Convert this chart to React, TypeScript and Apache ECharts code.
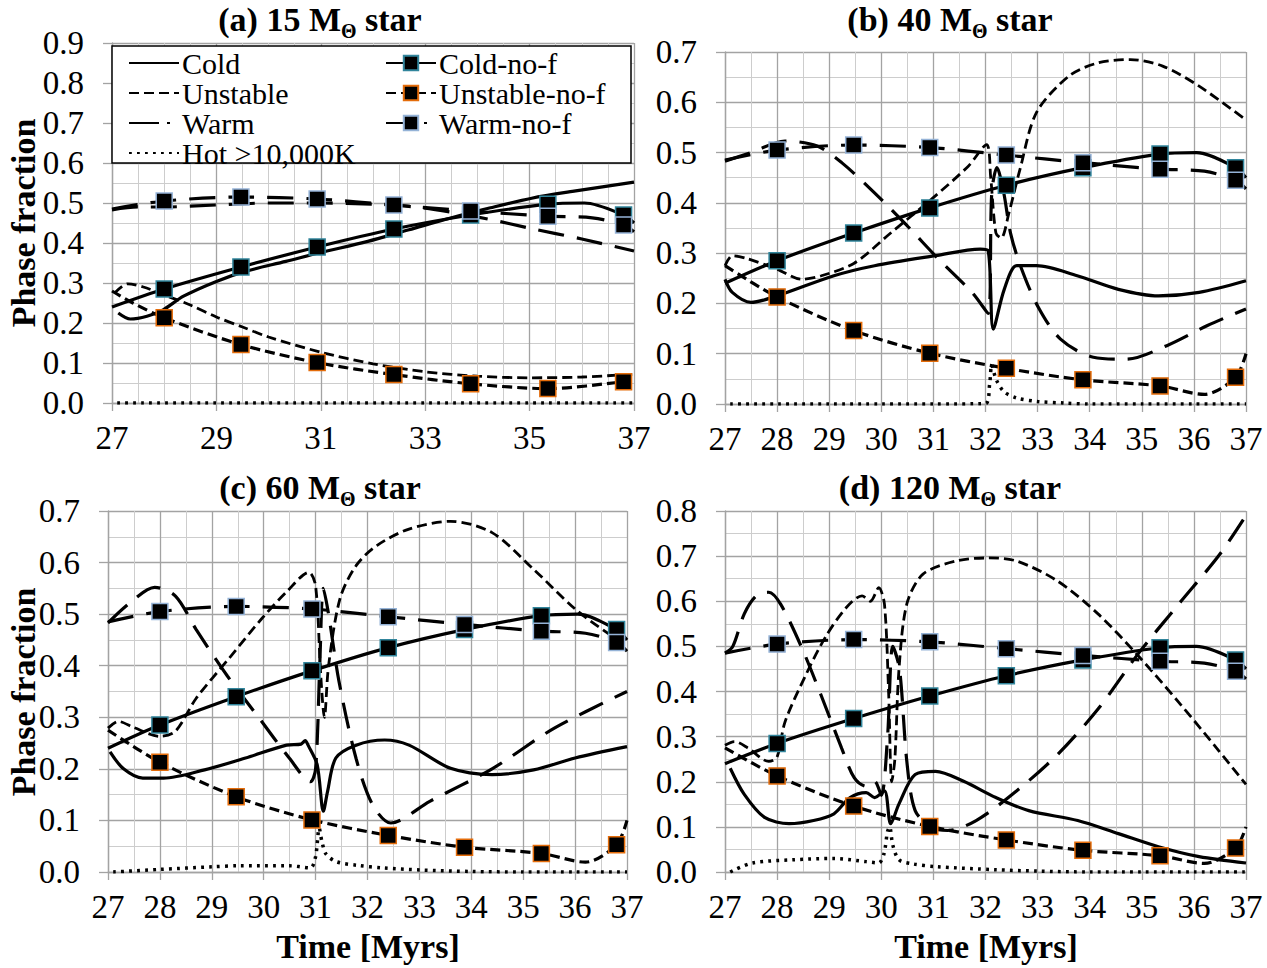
import React, { useEffect, useRef } from 'react';
import * as echarts from 'echarts';

const FONT = 'Liberation Serif';

// ---------- shared x positions of markers ----------
const markerX = [28, 29.47, 30.93, 32.4, 33.87, 35.35, 36.8];

// ---------- no-feedback runs (same in every panel) ----------
const coldNoF_x = [27, 28, 29.47, 30.93, 32.4, 33.87, 35.35, 36.05, 36.8, 37];
const coldNoF_y = [0.24, 0.285, 0.34, 0.39, 0.435, 0.47, 0.497, 0.5, 0.47, 0.45];
const unstNoF_x = [27, 28, 29.47, 30.93, 32.4, 33.87, 35.35, 36.2, 36.8, 37];
const unstNoF_y = [0.275, 0.213, 0.146, 0.101, 0.071, 0.048, 0.036, 0.019, 0.053, 0.1];
const unstNoFA_x = [27, 27.4, 28, 29.47, 30.93, 32.4, 33.87, 35.35, 36.8, 37];
const unstNoFA_y = [0.28, 0.25, 0.213, 0.146, 0.101, 0.071, 0.048, 0.036, 0.053, 0.057];
const warmNoF_x = [27, 28, 29.47, 30.93, 32.4, 33.87, 35.35, 36.2, 36.8, 37];
const warmNoF_y = [0.485, 0.505, 0.515, 0.51, 0.495, 0.48, 0.467, 0.463, 0.445, 0.428];

// ---------- (a) 15 Msun ----------
const coldA_x = [27.12, 27.35, 27.67, 27.98, 28.37, 29.0, 29.55, 30.33, 30.96, 31.9, 32.69, 33.47, 34.25, 35.04, 35.82, 37.0];
const coldA_y = [0.225, 0.21, 0.217, 0.233, 0.267, 0.304, 0.329, 0.354, 0.375, 0.404, 0.433, 0.462, 0.488, 0.512, 0.529, 0.552];
const unstA_x = [27.05, 27.3, 27.6, 28.0, 28.5, 29.0, 29.5, 30.0, 31.0, 32.0, 33.0, 34.0, 35.0, 36.0, 37.0];
const unstA_y = [0.275, 0.298, 0.29, 0.27, 0.245, 0.215, 0.19, 0.165, 0.127, 0.098, 0.078, 0.067, 0.063, 0.065, 0.072];
const warmA_x = [27.0, 27.5, 28.0, 29.0, 30.0, 31.0, 32.0, 32.8, 33.5, 34.2, 35.0, 36.0, 37.0];
const warmA_y = [0.483, 0.49, 0.49, 0.495, 0.5, 0.5, 0.497, 0.49, 0.477, 0.46, 0.437, 0.41, 0.38];
const hotA_x = [27.1, 29, 31, 33, 35, 37];
const hotA_y = [0, 0, 0, 0, 0, 0];

// ---------- (b) 40 Msun ----------
const coldB_x = [27.0, 27.14, 27.5, 28.0, 29.09, 29.87, 31.04, 31.9, 32.05, 32.15, 32.36, 32.6, 32.98, 33.76, 34.55, 35.32, 36.1, 37.0];
const coldB_y = [0.248, 0.222, 0.202, 0.215, 0.255, 0.275, 0.295, 0.308, 0.305, 0.149, 0.228, 0.275, 0.275, 0.255, 0.228, 0.215, 0.222, 0.245];
const unstB_x = [27.0, 27.14, 27.4, 28.0, 28.47, 28.85, 29.48, 30.18, 30.96, 31.67, 32.02, 32.1, 32.2, 32.3, 32.45, 32.67, 32.98, 33.6, 34.15, 34.78, 35.4, 36.1, 37.0];
const unstB_y = [0.275, 0.295, 0.29, 0.268, 0.248, 0.255, 0.28, 0.34, 0.407, 0.473, 0.516, 0.45, 0.34, 0.33, 0.38, 0.47, 0.58, 0.652, 0.678, 0.685, 0.672, 0.632, 0.565];
const warmB_x = [27.0, 27.5, 28.15, 28.77, 29.24, 29.87, 30.5, 31.1, 31.74, 32.05, 32.12, 32.22, 32.35, 32.48, 32.67, 33.0, 33.44, 34.07, 34.7, 35.48, 36.26, 37.0];
const warmB_y = [0.483, 0.5, 0.523, 0.513, 0.48, 0.42, 0.354, 0.288, 0.222, 0.18, 0.42, 0.47, 0.42, 0.34, 0.275, 0.195, 0.129, 0.093, 0.089, 0.116, 0.156, 0.189];
const hotB_x = [27.1, 28, 29, 30, 31, 32.0, 32.08, 32.12, 32.2, 32.35, 32.6, 33.0, 33.5, 34, 35, 36, 37];
const hotB_y = [0, 0, 0, 0, 0, 0.001, 0.04, 0.078, 0.05, 0.025, 0.012, 0.005, 0.002, 0, 0, 0, 0];

// ---------- (c) 60 Msun ----------
const coldC_x = [27.04, 27.3, 27.67, 28.07, 28.86, 29.65, 30.44, 30.72, 30.8, 30.86, 31.03, 31.15, 31.23, 31.39, 31.78, 32.33, 32.8, 33.6, 34.4, 35.2, 36.0, 37.0];
const coldC_y = [0.233, 0.2, 0.182, 0.182, 0.198, 0.221, 0.246, 0.248, 0.255, 0.245, 0.208, 0.118, 0.156, 0.221, 0.246, 0.256, 0.246, 0.201, 0.189, 0.198, 0.221, 0.243];
const unstC_x = [27.0, 27.2, 27.5, 28.0, 28.3, 28.7, 29.33, 29.96, 30.44, 30.87, 31.0, 31.1, 31.17, 31.25, 31.47, 31.78, 32.18, 32.8, 33.6, 34.4, 35.2, 36.0, 36.6, 37.0];
const unstC_y = [0.279, 0.292, 0.28, 0.263, 0.273, 0.337, 0.414, 0.491, 0.543, 0.581, 0.555, 0.38, 0.3, 0.4, 0.53, 0.594, 0.633, 0.665, 0.68, 0.658, 0.587, 0.51, 0.465, 0.44];
const warmC_x = [27.0, 27.4, 27.9, 28.3, 28.7, 29.3, 29.9, 30.5, 30.9, 31.0, 31.08, 31.15, 31.25, 31.45, 31.78, 32.1, 32.45, 33.2, 34.4, 35.6, 37.0];
const warmC_y = [0.483, 0.52, 0.552, 0.535, 0.47, 0.38, 0.3, 0.22, 0.175, 0.2, 0.4, 0.55, 0.5, 0.37, 0.22, 0.13, 0.095, 0.137, 0.2, 0.279, 0.35];
const hotC_x = [27.1, 28, 29, 29.5, 30.5, 30.9, 31.0, 31.07, 31.12, 31.2, 31.4, 31.8, 32.3, 33, 34, 35, 36, 37];
const hotC_y = [0, 0.005, 0.01, 0.012, 0.012, 0.008, 0.03, 0.085, 0.06, 0.035, 0.02, 0.013, 0.008, 0.004, 0.001, 0, 0, 0];

// ---------- (d) 120 Msun ----------
const coldD_x = [27.1, 27.37, 27.76, 28.23, 28.7, 29.09, 29.4, 29.71, 29.87, 30.06, 30.18, 30.34, 30.65, 31.04, 31.58, 32.2, 32.83, 33.77, 34.55, 35.32, 36.1, 37.0];
const coldD_y = [0.23, 0.172, 0.121, 0.107, 0.114, 0.129, 0.165, 0.176, 0.165, 0.18, 0.107, 0.151, 0.216, 0.223, 0.201, 0.165, 0.136, 0.114, 0.085, 0.056, 0.034, 0.02];
const unstD_x = [27.0, 27.18, 27.45, 27.84, 28.0, 28.15, 28.54, 28.93, 29.32, 29.63, 29.79, 29.95, 30.06, 30.14, 30.2, 30.26, 30.34, 30.49, 30.8, 31.43, 32.05, 32.6, 33.38, 34.16, 34.94, 35.71, 36.49, 37.0];
const unstD_y = [0.281, 0.289, 0.274, 0.245, 0.255, 0.332, 0.434, 0.521, 0.585, 0.612, 0.6, 0.63, 0.594, 0.4, 0.2, 0.25, 0.45, 0.594, 0.66, 0.689, 0.696, 0.689, 0.645, 0.572, 0.478, 0.376, 0.267, 0.194];
const warmD_x = [27.0, 27.15, 27.37, 27.6, 27.84, 28.07, 28.47, 28.85, 29.24, 29.48, 29.71, 29.87, 30.0, 30.12, 30.22, 30.35, 30.49, 30.65, 30.96, 31.27, 31.82, 32.6, 33.38, 34.16, 34.94, 35.71, 36.49, 37.0];
const warmD_y = [0.485, 0.5, 0.572, 0.612, 0.62, 0.593, 0.498, 0.39, 0.274, 0.209, 0.19, 0.201, 0.17, 0.3, 0.5, 0.45, 0.245, 0.136, 0.1, 0.092, 0.114, 0.18, 0.26, 0.361, 0.485, 0.594, 0.703, 0.79];
const hotD_x = [27.1, 27.53, 28.3, 29.09, 29.71, 29.95, 30.05, 30.12, 30.16, 30.22, 30.34, 30.6, 31.04, 32.2, 33.0, 34, 35, 36, 37];
const hotD_y = [0, 0.02, 0.027, 0.03, 0.023, 0.02, 0.04, 0.09, 0.1, 0.06, 0.027, 0.018, 0.012, 0.005, 0.002, 0, 0, 0, 0];

// ---------- panel config ----------
const titles = ['(a) 15 M', '(b) 40 M', '(c) 60 M', '(d) 120 M'];
const yMax = [0.9, 0.7, 0.7, 0.8];
const xInterval = [2, 1, 1, 1];
const xMinorSplit = [4, 2, 2, 2];

const panels = [
  { cold: [coldA_x, coldA_y], unst: [unstA_x, unstA_y], warm: [warmA_x, warmA_y], hot: [hotA_x, hotA_y], unstNoF: [unstNoFA_x, unstNoFA_y] },
  { cold: [coldB_x, coldB_y], unst: [unstB_x, unstB_y], warm: [warmB_x, warmB_y], hot: [hotB_x, hotB_y], unstNoF: [unstNoF_x, unstNoF_y] },
  { cold: [coldC_x, coldC_y], unst: [unstC_x, unstC_y], warm: [warmC_x, warmC_y], hot: [hotC_x, hotC_y], unstNoF: [unstNoF_x, unstNoF_y] },
  { cold: [coldD_x, coldD_y], unst: [unstD_x, unstD_y], warm: [warmD_x, warmD_y], hot: [hotD_x, hotD_y], unstNoF: [unstNoF_x, unstNoF_y] },
];

const grids = [
  { left: 112, top: 43, width: 522, height: 360 },
  { left: 725, top: 52, width: 521, height: 352 },
  { left: 108, top: 511, width: 519, height: 361 },
  { left: 725, top: 511, width: 521, height: 361 },
];
const titlePos = [[320, 19], [950, 19], [320, 487], [950, 487]];

const MAJOR = '#a3a3a3';
const MINOR = '#cdcdcd';

function pts(xs: number[], ys: number[]) {
  return xs.map((x, i) => [x, ys[i]]);
}
function markedPts(xs: number[], ys: number[]) {
  return xs.map((x, i) =>
    markerX.indexOf(x) >= 0 ? { value: [x, ys[i]] } : { value: [x, ys[i]], symbol: 'none' }
  );
}

const SOLID = 'solid';
const SHORT = [10, 5];
const LONG = [26, 13];
const LONG_LEGEND = [30, 8, 3, 9];
const DOT = [2.8, 5.2];

const tickRich = { t: { fontFamily: FONT, fontSize: 33, color: '#000' } };

function buildOption() {
  const series: any[] = [];
  panels.forEach((p, i) => {
    const base = { type: 'line', xAxisIndex: i, yAxisIndex: i, smooth: 0.3, clip: true };
    series.push({ ...base, name: 'Cold', symbol: 'none', data: pts(p.cold[0], p.cold[1]), lineStyle: { color: '#000', width: 3.2, type: SOLID }, itemStyle: { color: '#000' } });
    series.push({ ...base, name: 'Unstable', symbol: 'none', data: pts(p.unst[0], p.unst[1]), lineStyle: { color: '#000', width: 2.8, type: SHORT }, itemStyle: { color: '#000' } });
    series.push({ ...base, name: 'Warm', symbol: 'none', data: pts(p.warm[0], p.warm[1]), lineStyle: { color: '#000', width: 3.2, type: LONG }, itemStyle: { color: '#000' } });
    series.push({ ...base, name: 'Hot >10,000K', symbol: 'none', data: pts(p.hot[0], p.hot[1]), lineStyle: { color: '#000', width: 3.5, type: DOT }, itemStyle: { color: '#000' } });
    const mk = { symbol: 'rect', symbolSize: 16, showSymbol: true, showAllSymbol: true };
    series.push({ ...base, ...mk, name: 'Cold-no-f', data: markedPts(coldNoF_x, coldNoF_y), lineStyle: { color: '#000', width: 3.2, type: SOLID }, itemStyle: { color: '#000', borderColor: '#31859c', borderWidth: 1.5 } });
    series.push({ ...base, ...mk, name: 'Unstable-no-f', data: markedPts(p.unstNoF[0], p.unstNoF[1]), lineStyle: { color: '#000', width: 3.2, type: SHORT }, itemStyle: { color: '#000', borderColor: '#e46c0a', borderWidth: 1.5 } });
    series.push({ ...base, ...mk, name: 'Warm-no-f', data: markedPts(warmNoF_x, warmNoF_y), lineStyle: { color: '#000', width: 3.2, type: LONG }, itemStyle: { color: '#000', borderColor: '#95b3d7', borderWidth: 1.5 } });
  });

  const xAxis = grids.map((_, i) => ({
    type: 'value', gridIndex: i, min: 27, max: 37, interval: xInterval[i],
    axisLine: { show: true, onZero: false, lineStyle: { color: MAJOR, width: 1.3 } },
    axisTick: { show: true, length: 8, lineStyle: { color: MAJOR, width: 1.3 } },
    axisLabel: { fontFamily: FONT, fontSize: 33, color: '#000', margin: 18, formatter: (v: number) => '{t|' + v + '}', rich: tickRich },
    splitLine: { show: true, lineStyle: { color: MAJOR, width: 1.3 } },
    minorTick: { show: false, splitNumber: xMinorSplit[i] },
    minorSplitLine: { show: true, lineStyle: { color: MINOR, width: 1 } },
  }));
  const yAxis = grids.map((_, i) => ({
    type: 'value', gridIndex: i, min: 0, max: yMax[i], interval: 0.1,
    axisLine: { show: true, lineStyle: { color: MAJOR, width: 1.3 } },
    axisTick: { show: true, length: 9, lineStyle: { color: MAJOR, width: 1.3 } },
    axisLabel: { fontFamily: FONT, fontSize: 33, color: '#000', margin: 28, formatter: (v: number) => '{t|' + v.toFixed(1) + '}', rich: tickRich },
    splitLine: { show: true, lineStyle: { color: MAJOR, width: 1.3 } },
    minorTick: { show: false, splitNumber: 2 },
    minorSplitLine: { show: true, lineStyle: { color: MINOR, width: 1 } },
  }));

  const richTitle = {
    b: { fontFamily: FONT, fontSize: 34, fontWeight: 'bold', lineHeight: 44, verticalAlign: 'middle', color: '#000' },
    s: { fontFamily: FONT, fontSize: 20, fontWeight: 'bold', lineHeight: 20, verticalAlign: 'bottom', color: '#000' },
  };

  const graphic: any[] = titles.map((t, i) => ({
    type: 'text', x: titlePos[i][0], y: titlePos[i][1], z: 20,
    style: {
      text: '{b|' + t + '}{s|Θ}{b| star}', rich: richTitle,
      textAlign: 'center', textVerticalAlign: 'middle', align: 'center', verticalAlign: 'middle',
    },
  }));
  const nameStyle = { fontFamily: FONT, fontSize: 34, fontWeight: 'bold', fill: '#000', textAlign: 'center', textVerticalAlign: 'middle', align: 'center', verticalAlign: 'middle' };
  graphic.push({ type: 'text', x: 23, y: 223, rotation: Math.PI / 2, z: 20, style: { ...nameStyle, text: 'Phase fraction' } });
  graphic.push({ type: 'text', x: 23, y: 692, rotation: Math.PI / 2, z: 20, style: { ...nameStyle, text: 'Phase fraction' } });
  graphic.push({ type: 'text', x: 368, y: 946, z: 20, style: { ...nameStyle, text: 'Time [Myrs]' } });
  graphic.push({ type: 'text', x: 986, y: 946, z: 20, style: { ...nameStyle, text: 'Time [Myrs]' } });
  graphic.push({ type: 'rect', z: 5, shape: { x: 112, y: 46, width: 519, height: 117 }, style: { fill: '#fff', stroke: '#000', lineWidth: 1.5 } });

  const legendCommon = {
    orient: 'vertical', top: 48, itemWidth: 50, itemHeight: 18, itemGap: 0, padding: 0, z: 10,
    selectedMode: false,
    textStyle: { fontFamily: FONT, fontSize: 30, color: '#000', lineHeight: 30, padding: [0, 0, 0, -2] },
  };
  const noSymbol = { color: 'rgba(0,0,0,0)', borderColor: 'rgba(0,0,0,0)', borderWidth: 0 };

  return {
    animation: false,
    backgroundColor: '#fff',
    textStyle: { fontFamily: FONT, color: '#000' },
    grid: grids,
    xAxis,
    yAxis,
    series,
    graphic,
    legend: [
      {
        ...legendCommon, left: 128,
        data: [
          { name: 'Cold', itemStyle: noSymbol },
          { name: 'Unstable', itemStyle: noSymbol },
          { name: 'Warm', itemStyle: noSymbol, lineStyle: { type: LONG_LEGEND } },
          { name: 'Hot >10,000K', itemStyle: noSymbol },
        ],
      },
      {
        ...legendCommon, left: 385,
        data: [
          { name: 'Cold-no-f' },
          { name: 'Unstable-no-f' },
          { name: 'Warm-no-f', lineStyle: { type: LONG_LEGEND } },
        ],
      },
    ],
  };
}

export default function App() {
  const ref = useRef<HTMLDivElement>(null);
  useEffect(() => {
    if (!ref.current) return;
    const chart = echarts.init(ref.current, undefined, { renderer: 'svg' });
    chart.setOption(buildOption() as any);
    return () => chart.dispose();
  }, []);
  return <div ref={ref} style={{ position: 'absolute', left: 0, top: 0, width: 1267, height: 968, background: '#fff' }} />;
}
